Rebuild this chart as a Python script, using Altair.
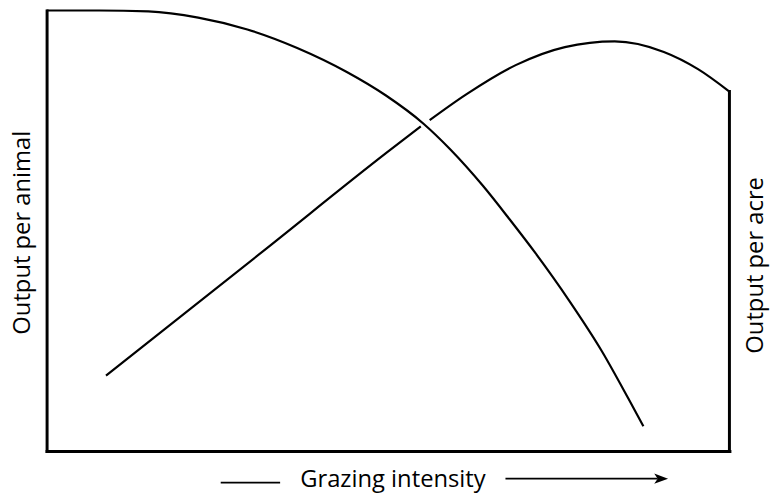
import altair as alt
import pandas as pd

# Output per animal curve (grazing intensity 0-100, output 0-100)
animal_x = [0, 7.7, 14.9, 22.2, 29.4, 36.7, 43.9, 49.7, 55.2, 59.1, 63.9, 67.8, 71.6, 76.5, 81.3, 85.2, 87.4]
animal_y = [100, 100, 99.8, 98.4, 95.7, 91.5, 86.1, 80.7, 74.3, 68.5, 60.2, 52.6, 44.9, 34.2, 22.7, 11.9, 5.6]
# Output per acre curve (broken where it passes under the other curve)
acre_low_x = [8.7, 31.9, 49.7, 54.8]
acre_low_y = [17.1, 45.6, 67.6, 73.7]
acre_high_x = [56.1, 61.4, 68.7, 75.9, 83.2, 90.4, 95.4, 100]
acre_high_y = [75.1, 80.9, 87.6, 91.7, 93.0, 90.6, 86.7, 81.6]

# arrow under the x axis (annotation, in data units)
dash_left = [25.5, 34.2]
dash_left_y = -7.2
arrow_shaft = [67.2, 89.5]
arrow_y = -6.3
arrow_head_x = 90.0

FONT = "Open Sans"
FS = 24

rows = []
for x, y in zip(animal_x, animal_y):
    rows.append({"x": x, "y": y, "seg": "animal"})
for x, y in zip(acre_low_x, acre_low_y):
    rows.append({"x": x, "y": y, "seg": "acre_low"})
for x, y in zip(acre_high_x, acre_high_y):
    rows.append({"x": x, "y": y, "seg": "acre_high"})
curves = pd.DataFrame(rows)

xscale = alt.Scale(domain=[0, 100], nice=False, zero=False)
yscale = alt.Scale(domain=[0, 100], nice=False, zero=False)

x_axis = alt.Axis(
    domain=True, domainWidth=3, domainColor="black", domainCap="square",
    ticks=False, labels=False, grid=False,
    title="Grazing intensity", titleFont=FONT, titleFontSize=FS,
    titleFontWeight="normal", titleColor="black",
    titleX=349.5, titleY=36, titleBaseline="alphabetic", titleAlign="center",
)
y_left_axis = alt.Axis(
    domain=True, domainWidth=3, domainColor="black", domainCap="square",
    ticks=False, labels=False, grid=False,
    title="Output per animal", titleFont=FONT, titleFontSize=FS,
    titleFontWeight="normal", titleColor="black", titleAngle=270,
    titleX=-17, titleY=224, titleBaseline="alphabetic", titleAlign="center",
)
y_right_axis = alt.Axis(
    orient="right",
    domain=False, ticks=False, labels=False, grid=False,
    title="Output per acre", titleFont=FONT, titleFontSize=FS,
    titleFontWeight="normal", titleColor="black", titleAngle=270,
    titleX=33, titleY=257, titleBaseline="alphabetic", titleAlign="center",
)

lines = alt.Chart(curves).mark_line(
    color="black", strokeWidth=2.2, interpolate="monotone", clip=False
).encode(
    x=alt.X("x:Q", scale=xscale, axis=x_axis),
    y=alt.Y("y:Q", scale=yscale, axis=y_left_axis),
    detail="seg:N",
    order="x:Q",
)

right_df = pd.DataFrame({"x": [100], "y0": [0], "y1": [acre_high_y[-1]]})
right_line = alt.Chart(right_df).mark_rule(
    color="black", strokeWidth=3, strokeCap="square"
).encode(
    x=alt.X("x:Q", scale=xscale),
    y=alt.Y("y0:Q", scale=yscale, axis=y_right_axis),
    y2="y1:Q",
)

arrow_df = pd.DataFrame({
    "x0": [dash_left[0], arrow_shaft[0]],
    "x1": [dash_left[1], arrow_shaft[1]],
    "y": [dash_left_y, arrow_y],
})
arrow_lines = alt.Chart(arrow_df).mark_rule(
    color="black", strokeWidth=1.6, clip=False
).encode(
    x=alt.X("x0:Q", scale=xscale),
    x2="x1:Q",
    y=alt.Y("y:Q", scale=yscale),
)

head_df = pd.DataFrame({"x": [arrow_head_x], "y": [arrow_y]})
arrow_head = alt.Chart(head_df).mark_point(
    shape="M 1 0 L -1 -0.75 L -0.5 0 L -1 0.75 Z",
    size=196, filled=True, color="black", opacity=1, strokeWidth=0, clip=False
).encode(
    x=alt.X("x:Q", scale=xscale),
    y=alt.Y("y:Q", scale=yscale),
)

left_layer = alt.layer(lines, arrow_lines, arrow_head)
chart = alt.layer(left_layer, right_line).resolve_scale(y="independent").properties(
    width=690, height=445,
    autosize=alt.AutoSizeParams(type="none"),
    padding={"left": 39, "top": 0, "right": 41, "bottom": 42},
    background="white",
).configure_view(strokeWidth=0, stroke="transparent")

chart.save("out.html", embed_options={"renderer": "svg", "actions": False})
